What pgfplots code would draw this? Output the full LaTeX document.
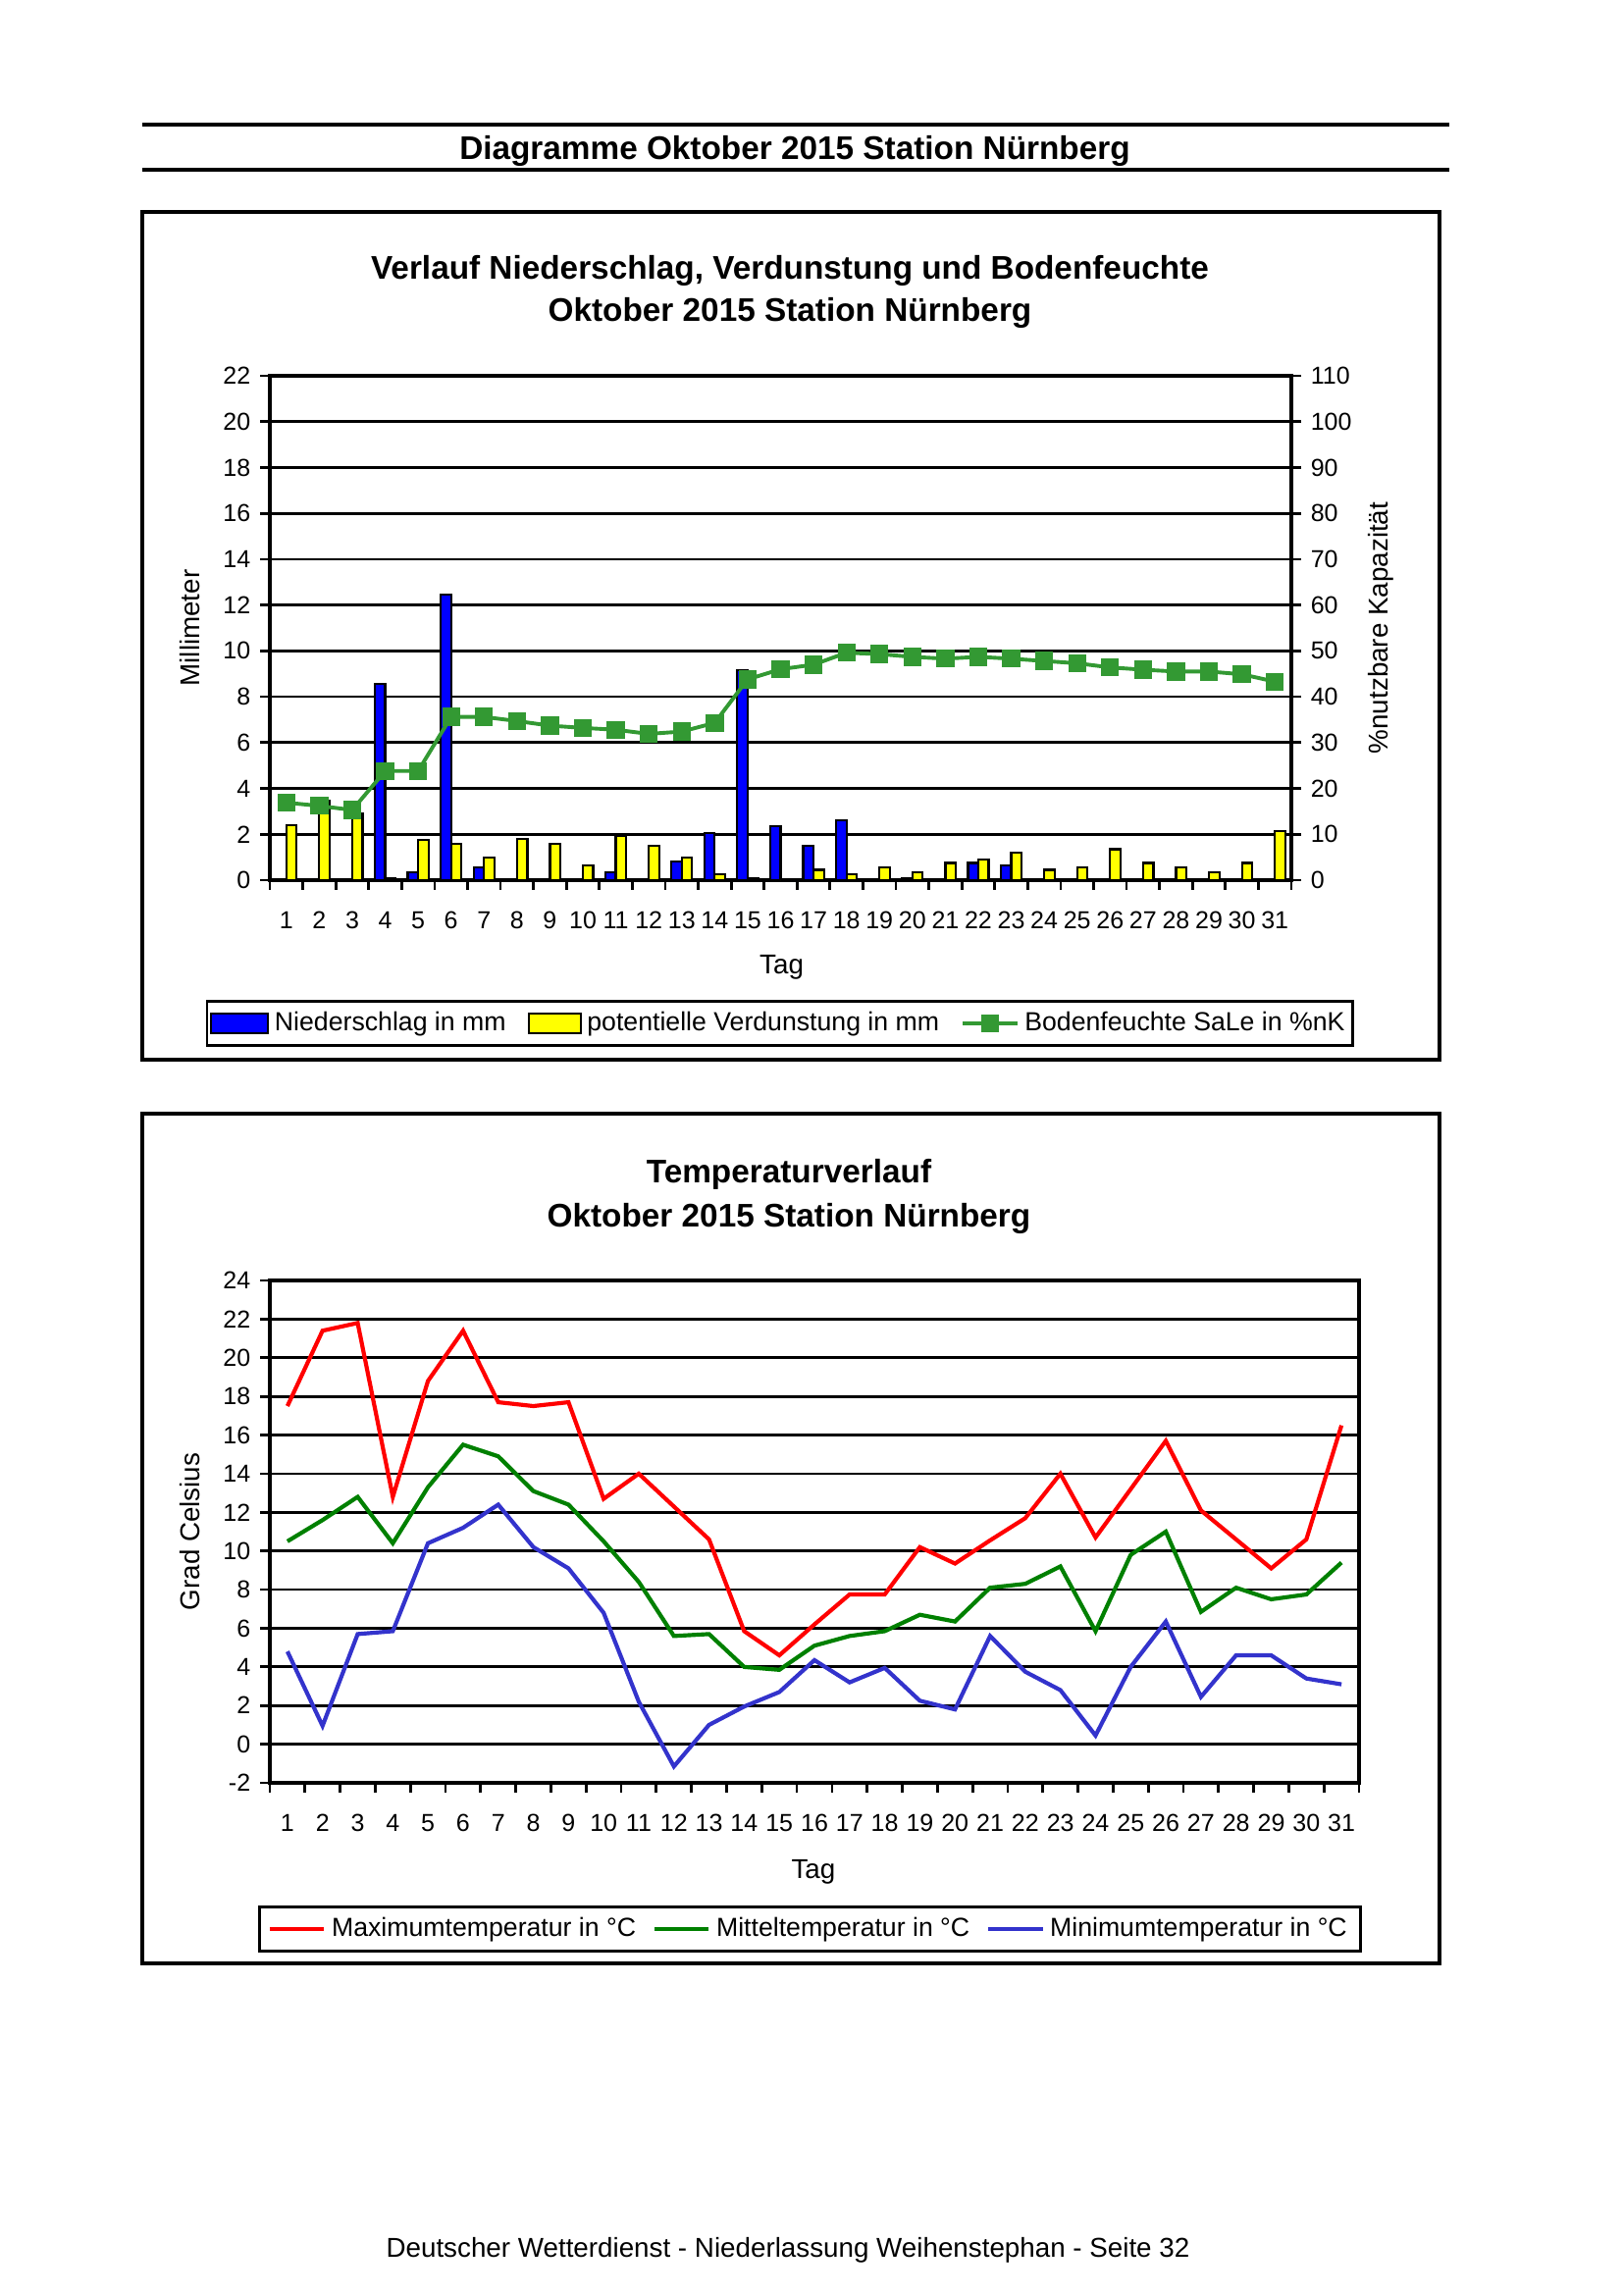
\documentclass[border=0pt]{standalone}
\usepackage{pgfplots}
\usepackage{pgfplotstable}
\pgfplotsset{compat=1.18}
\usepackage{fontspec}
\setmainfont{Liberation Sans}
\definecolor{barblue}{RGB}{0,0,255}
\definecolor{baryellow}{RGB}{255,255,0}
\definecolor{soilgreen}{RGB}{51,153,51}
\definecolor{tred}{RGB}{255,0,0}
\definecolor{tgreen}{RGB}{0,128,0}
\definecolor{tblue}{RGB}{51,51,204}
\newcommand{\tickfont}{\fontsize{9}{10}\selectfont}
\newcommand{\labfont}{\fontsize{9.5}{11}\selectfont}
\newcommand{\legfont}{\fontsize{9.6}{11}\selectfont}
\newcommand{\titfont}{\fontsize{12}{14}\selectfont\bfseries}

\pgfplotstableread{
day nied verd boden
1  0     2.4  16.9
2  0     3.45 16.2
3  0     2.9  15.3
4  8.55  0.1  23.8
5  0.35  1.75 23.8
6  12.45 1.6  35.6
7  0.55  1.0  35.6
8  0     1.8  34.7
9  0     1.6  33.7
10 0     0.65 33.2
11 0.35  1.95 32.8
12 0     1.5  31.9
13 0.8   1.0  32.4
14 2.05  0.25 34.3
15 9.15  0.1  43.8
16 2.35  0    46.0
17 1.5   0.45 47.0
18 2.6   0.25 49.6
19 0     0.55 49.3
20 0.1   0.35 48.7
21 0     0.75 48.3
22 0.75  0.9  48.7
23 0.65  1.2  48.3
24 0     0.45 47.8
25 0     0.55 47.3
26 0     1.35 46.4
27 0     0.75 45.9
28 0     0.55 45.5
29 0     0.35 45.5
30 0     0.75 44.9
31 0     2.15 43.3
}\raindata

\pgfplotstableread{
day tmax tmit tmin
1  17.5 10.5 4.8
2  21.4 11.6 0.95
3  21.8 12.8 5.7
4  12.8 10.4 5.85
5  18.8 13.3 10.4
6  21.4 15.5 11.2
7  17.7 14.9 12.4
8  17.5 13.1 10.2
9  17.7 12.4 9.1
10 12.7 10.5 6.8
11 14.0 8.4  2.2
12 12.3 5.6  -1.15
13 10.6 5.7  1.0
14 5.85 4.0  1.95
15 4.6  3.85 2.7
16 6.2  5.1  4.35
17 7.75 5.6  3.2
18 7.75 5.85 3.95
19 10.2 6.7  2.25
20 9.35 6.35 1.8
21 10.55 8.1 5.6
22 11.7 8.3  3.75
23 14.0 9.2  2.8
24 10.7 5.85 0.45
25 13.2 9.8  4.0
26 15.7 11.0 6.35
27 12.1 6.85 2.45
28 10.6 8.1  4.6
29 9.1  7.5  4.6
30 10.6 7.75 3.4
31 16.5 9.4  3.1
}\tempdata

\pgfplotsset{
  dwdbase/.style={
    scale only axis,
    xmin=0.5, xmax=31.5,
    tick align=outside,
    major tick length=3.6pt,
    axis line style={line width=1.1pt},
    tick style={line width=1pt, black},
    major grid style={line width=1pt, black},
    tick label style={font=\tickfont},
    label style={font=\labfont},
    /pgf/number format/assume math mode=true,
  },
  dayticks/.style={
    xtick={0.5,1.5,...,31.5},
    xticklabel={\relax},
    xticklabel style={yshift=-8pt},
    extra x ticks={1,2,...,31},
    extra x tick labels={1,2,3,4,5,6,7,8,9,10,11,12,13,14,15,16,17,18,19,20,21,22,23,24,25,26,27,28,29,30,31},
    extra x tick style={major tick length=0pt, tick style={draw=none}},
  },
  bluepatch/.style={legend image code/.code={\draw[fill=barblue, draw=black, line width=0.8pt] (0pt,-3.5pt) rectangle (21pt,3.5pt);}},
  yellowpatch/.style={legend image code/.code={\draw[fill=baryellow, draw=black, line width=0.8pt] (0pt,-3.5pt) rectangle (19pt,3.5pt);}},
  soillegend/.style={legend image code/.code={\draw[##1, mark repeat=2, mark phase=2] plot coordinates {(0pt,0pt) (10pt,0pt) (20pt,0pt)};}},
  templegend/.style={legend image code/.code={\draw[##1] (0pt,0pt) -- (20pt,0pt);}},
}

\begin{document}
\begin{tikzpicture}
\useasboundingbox (0,0) rectangle (595.08pt,-842.4pt);
% header
\draw[line width=1.5pt] (52.2pt,-45.72pt) -- (531.72pt,-45.72pt);
\draw[line width=1.5pt] (52.2pt,-62.28pt) -- (531.72pt,-62.28pt);
\node[anchor=base, font=\titfont, inner sep=0pt] at (291.6pt,-58.68pt) {Diagramme Oktober 2015 Station Nürnberg};
% boxes
\draw[line width=1.1pt] (52.2pt,-77.76pt) rectangle (528.12pt,-388.8pt);
\draw[line width=1.1pt] (52.2pt,-408.6pt) rectangle (528.12pt,-720.36pt);
% chart titles
\node[anchor=base, font=\titfont, inner sep=0pt] at (289.8pt,-102.6pt) {Verlauf Niederschlag, Verdunstung und Bodenfeuchte};
\node[anchor=base, font=\titfont, inner sep=0pt] at (289.8pt,-118.08pt) {Oktober 2015 Station Nürnberg};
\node[anchor=base, font=\titfont, inner sep=0pt] at (289.44pt,-433.8pt) {Temperaturverlauf};
\node[anchor=base, font=\titfont, inner sep=0pt] at (289.44pt,-450pt) {Oktober 2015 Station Nürnberg};
% footer
\node[anchor=base, font=\fontsize{10}{12}\selectfont, inner sep=0pt] at (289.08pt,-828pt) {Deutscher Wetterdienst - Niederlassung Weihenstephan - Seite 32};

% ---------- chart 1: bars
\begin{axis}[dwdbase, dayticks,
  at={(99pt,-322.92pt)}, anchor=south west,
  width=374.76pt, height=185.04pt,
  ymin=0, ymax=22,
  ytick={0,2,...,22},
  yticklabels={0,2,4,6,8,10,12,14,16,18,20,22},
  tick pos=left,
  ymajorgrids,
  ybar=0pt, bar width=3.8pt,
  xlabel={Tag}, ylabel={Millimeter},
  every axis x label/.style={at={(axis description cs:0.501,-0.172)}, anchor=center},
  every axis y label/.style={at={(axis description cs:-0.0778,0.5)}, rotate=90, anchor=center},
]
\addplot[fill=barblue, draw=black, line width=0.8pt] table[x=day, y=nied] {\raindata};
\addplot[fill=baryellow, draw=black, line width=0.8pt] table[x=day, y=verd] {\raindata};
\end{axis}

\begin{axis}[dwdbase,
  at={(99pt,-322.92pt)}, anchor=south west,
  width=374.76pt, height=185.04pt,
  ymin=0, ymax=110,
  axis x line=none, axis y line*=right,
  ytick={0,10,...,110},
  yticklabels={0,10,20,30,40,50,60,70,80,90,100,110},
  ylabel={\%nutzbare Kapazität},
  every axis y label/.style={at={(axis description cs:1.0875,0.5)}, rotate=90, anchor=center},
  legend columns=-1,
  legend cell align=left,
  legend style={at={(0.4995,-0.284)}, anchor=center, draw=black, line width=1pt,
    font=\legfont, inner xsep=1pt, inner ysep=2pt,
    /tikz/every even column/.append style={column sep=6pt}},
]
\addlegendimage{bluepatch}
\addlegendentry{Niederschlag in mm}
\addlegendimage{yellowpatch}
\addlegendentry{potentielle Verdunstung in mm}
\addplot[color=soilgreen, line width=1.4pt, mark=square*, mark size=2.6pt,
  mark options={solid, fill=soilgreen, draw=soilgreen}, soillegend]
  table[x=day, y=boden] {\raindata};
\addlegendentry{Bodenfeuchte SaLe in \%nK}
\end{axis}

% ---------- chart 2: temperature
\begin{axis}[dwdbase, dayticks,
  at={(99pt,-654.12pt)}, anchor=south west,
  width=399.6pt, height=184.32pt,
  ymin=-2, ymax=24,
  ytick={-2,0,2,...,24},
  yticklabels={-2,0,2,4,6,8,10,12,14,16,18,20,22,24},
  tick pos=left,
  ymajorgrids,
  xlabel={Tag}, ylabel={Grad Celsius},
  every axis x label/.style={at={(axis description cs:0.499,-0.178)}, anchor=center},
  every axis y label/.style={at={(axis description cs:-0.073,0.5)}, rotate=90, anchor=center},
  legend columns=-1,
  legend cell align=left,
  templegend,
  legend style={at={(0.496,-0.291)}, anchor=center, draw=black, line width=1pt,
    font=\legfont, inner xsep=3pt, inner ysep=2pt,
    /tikz/every even column/.append style={column sep=4pt}},
]
\addplot[color=tred, line width=1.5pt] table[x=day, y=tmax] {\tempdata};
\addlegendentry{Maximumtemperatur in °C}
\addplot[color=tgreen, line width=1.5pt] table[x=day, y=tmit] {\tempdata};
\addlegendentry{Mitteltemperatur in °C}
\addplot[color=tblue, line width=1.5pt] table[x=day, y=tmin] {\tempdata};
\addlegendentry{Minimumtemperatur in °C}
\end{axis}
\end{tikzpicture}
\end{document}
